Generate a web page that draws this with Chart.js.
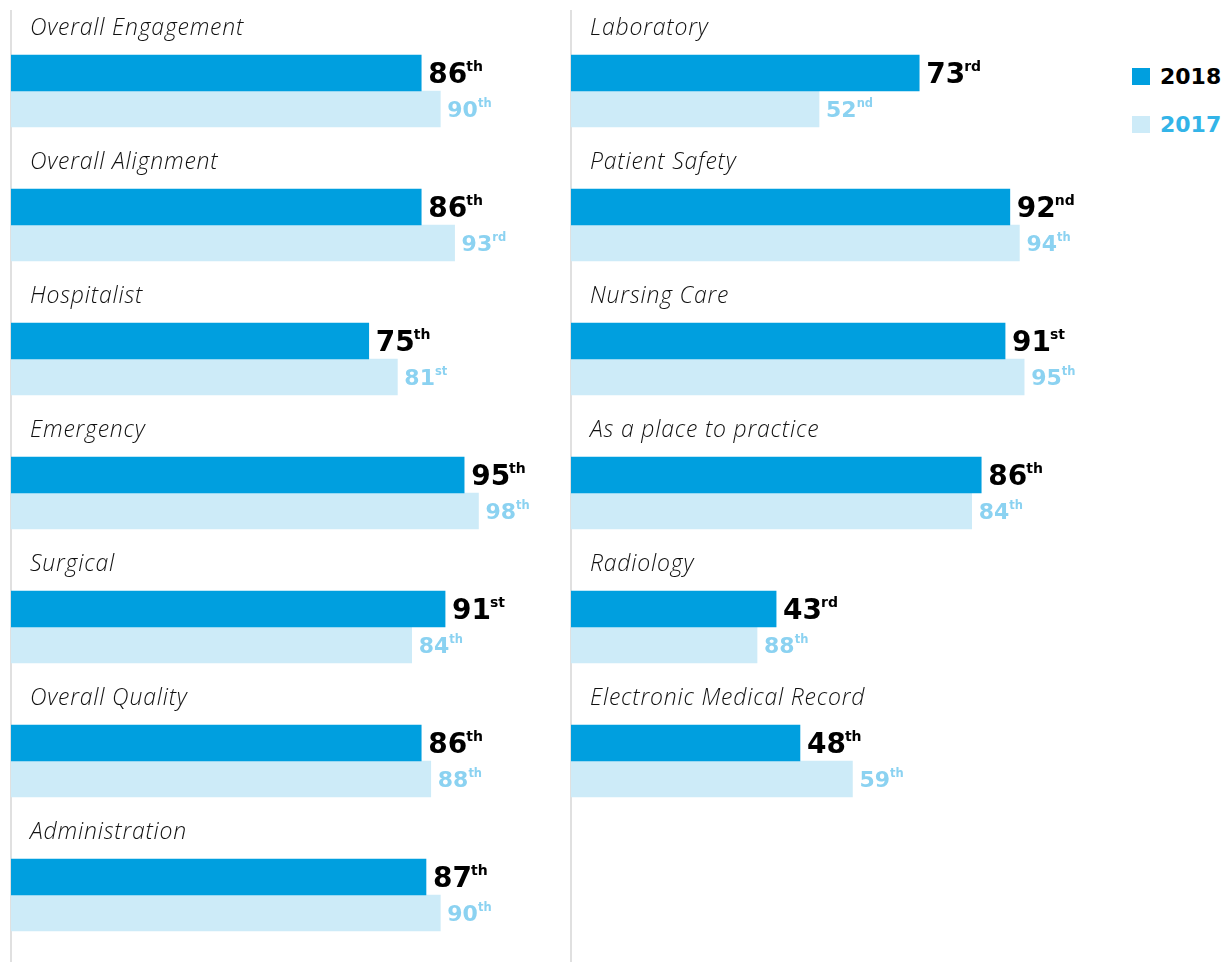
<!DOCTYPE html>
<html>
<head>
<meta charset="utf-8">
<script src="https://cdn.jsdelivr.net/npm/chart.js@4.4.1/dist/chart.umd.min.js"></script>
<style>
  body { margin: 0; background: #fff; overflow: hidden; }
  #wrap { position: relative; width: 1228px; height: 962px; }
  #leftChart { position: absolute; left: 0; top: 0; }
  #rightChart { position: absolute; left: 560px; top: 0; }
  .legend-item { position: absolute; left: 1132px; font-family: "DejaVu Sans", sans-serif; font-weight: bold; font-size: 22px; }
  .legend-item span { display: inline-block; width: 18px; height: 17px; margin-right: 10px; vertical-align: -1px; }
</style>
</head>
<body>
<div id="wrap">
  <canvas id="leftChart" width="560" height="962"></canvas>
  <canvas id="rightChart" width="560" height="962"></canvas>
  <div class="legend-item" style="top:64px; color:#000;"><span style="background:#009fdf"></span>2018</div>
  <div class="legend-item" style="top:112px; color:#33b4e8;"><span style="background:#cdebf8"></span>2017</div>
</div>
<script>
// left column
const leftCategories = ["Overall Engagement", "Overall Alignment", "Hospitalist", "Emergency", "Surgical", "Overall Quality", "Administration"];
const left2018 = [86, 86, 75, 95, 91, 86, 87];
const left2017 = [90, 93, 81, 98, 84, 88, 90];

// right column (last slot empty so rows line up with the left)
const rightCategories = ["Laboratory", "Patient Safety", "Nursing Care", "As a place to practice", "Radiology", "Electronic Medical Record", ""];
const right2018 = [73, 92, 91, 86, 43, 48, null];
const right2017 = [52, 94, 95, 84, 39, 59, null];
// printed rank labels (Radiology 2017 bar is shorter than its label in the original)
const right2017Labels = [52, 94, 95, 84, 88, 59, null];

const color2018 = '#009fdf';
const color2017 = '#cdebf8';
const label2017Color = '#8bd2f1';

function suffix(n) {
    let v = n % 100;
    if (v >= 11 && v <= 13) return 'th';
    if (n % 10 === 1) return 'st';
    if (n % 10 === 2) return 'nd';
    if (n % 10 === 3) return 'rd';
    return 'th';
}

const rowLabels = {
    id: 'rowLabels',
    beforeDatasetsDraw(chart) {
        const ctx = chart.ctx;
        const area = chart.chartArea;
        ctx.save();
        ctx.strokeStyle = '#d6d6d6';
        ctx.lineWidth = 1.5;
        ctx.beginPath();
        ctx.moveTo(area.left, 10);
        ctx.lineTo(area.left, 962);
        ctx.stroke();
        ctx.restore();
    },
    afterDatasetsDraw(chart, args, opts) {
        const ctx = chart.ctx;
        const area = chart.chartArea;
        const m18 = chart.getDatasetMeta(0);
        const m17 = chart.getDatasetMeta(1);
        ctx.save();
        chart.data.labels.forEach(function(name, i) {
            if (name === "") return;
            let b18 = m18.data[i];
            let b17 = m17.data[i];
            let center = (b18.y + b17.y) / 2;

            ctx.fillStyle = '#111';
            ctx.font = 'italic 300 23px "Open Sans"';
            ctx.letterSpacing = '0.8px';
            ctx.textBaseline = 'alphabetic';
            ctx.textAlign = 'left';
            ctx.fillText(name, area.left + 19, center - 56);
            ctx.letterSpacing = '0px';

            // 2018 value
            let v = chart.data.datasets[0].data[i];
            let x = b18.x + 7;
            ctx.fillStyle = '#000';
            ctx.font = 'bold 28px "DejaVu Sans"';
            ctx.fillText(String(v), x, b18.y + 10);
            let w = ctx.measureText(String(v)).width;
            ctx.font = 'bold 14px "DejaVu Sans"';
            ctx.fillText(suffix(v), x + w - 1, b18.y - 2);

            // 2017 value
            let lbl = opts.labels2017[i];
            x = b17.x + 7;
            ctx.fillStyle = label2017Color;
            ctx.font = 'bold 22px "DejaVu Sans"';
            ctx.fillText(String(lbl), x, b17.y + 8);
            w = ctx.measureText(String(lbl)).width;
            ctx.font = 'bold 11.5px "DejaVu Sans"';
            ctx.fillText(suffix(lbl), x + w, b17.y - 2);
        });
        ctx.restore();
    }
};

function makeChart(id, cats, d18, d17, lbl17) {
    return new Chart(document.getElementById(id), {
        type: 'bar',
        data: {
            labels: cats,
            datasets: [
                { label: '2018', data: d18, backgroundColor: color2018, barThickness: 36 },
                { label: '2017', data: d17, backgroundColor: color2017, barThickness: 36 }
            ]
        },
        options: {
            indexAxis: 'y',
            responsive: false,
            animation: false,
            layout: { padding: { left: 11, right: 72, top: 24, bottom: 0 } },
            scales: {
                x: { display: false, min: 0, max: 100 },
                y: { display: false }
            },
            plugins: {
                legend: { display: false },
                tooltip: { enabled: false },
                rowLabels: { labels2017: lbl17 }
            }
        },
        plugins: [rowLabels]
    });
}

document.addEventListener('DOMContentLoaded', function() {
    makeChart('leftChart', leftCategories, left2018, left2017, left2017);
    makeChart('rightChart', rightCategories, right2018, right2017, right2017Labels);
});
</script>
</body>
</html>
